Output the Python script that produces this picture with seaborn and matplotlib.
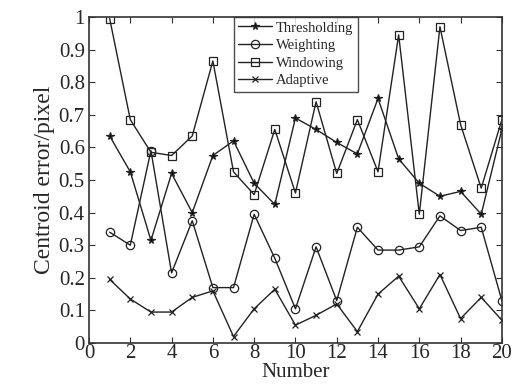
import numpy as np
import pandas as pd
import matplotlib
matplotlib.use("Agg")
import matplotlib.pyplot as plt
import seaborn as sns

# values
number = list(range(1, 21))
thresholding = [0.635, 0.525, 0.315, 0.52, 0.40, 0.575, 0.62, 0.49, 0.425, 0.69,
                0.655, 0.615, 0.58, 0.75, 0.565, 0.49, 0.45, 0.465, 0.395, 0.655]
weighting = [0.34, 0.30, 0.59, 0.215, 0.375, 0.17, 0.17, 0.395, 0.26, 0.105,
             0.295, 0.13, 0.355, 0.285, 0.285, 0.295, 0.39, 0.345, 0.355, 0.13]
windowing = [0.995, 0.685, 0.585, 0.575, 0.635, 0.865, 0.525, 0.455, 0.655, 0.46,
             0.74, 0.52, 0.685, 0.525, 0.945, 0.395, 0.97, 0.67, 0.475, 0.685]
adaptive = [0.195, 0.135, 0.095, 0.095, 0.14, 0.16, 0.02, 0.105, 0.165, 0.055,
            0.085, 0.12, 0.035, 0.15, 0.205, 0.105, 0.21, 0.075, 0.14, 0.07]

series = [("Thresholding", thresholding, "*", "k", 5.5),
          ("Weighting", weighting, "o", "none", 6),
          ("Windowing", windowing, "s", "none", 6),
          ("Adaptive", adaptive, "x", "k", 4)]

sns.set_style("ticks")
plt.rcParams['font.family'] = ['Liberation Serif', 'DejaVu Serif']

fig = plt.figure(figsize=(5.19, 3.85), dpi=100)
ax = fig.add_axes([0.1715, 0.109, 0.7955, 0.847])

for name, vals, mk, fc, ms in series:
    sns.lineplot(x=number, y=vals, ax=ax, color="#222222", linewidth=1.0,
                 marker=mk, markersize=ms, markerfacecolor=fc,
                 markeredgecolor="#222222", markeredgewidth=0.9, label=name)

ax.set_xlim(0, 20)
ax.set_ylim(0, 1)
ax.set_xticks(np.arange(0, 21, 2))
ax.set_yticks(np.arange(0, 1.01, 0.1))
ax.set_yticklabels(["0", "0.1", "0.2", "0.3", "0.4", "0.5", "0.6", "0.7", "0.8", "0.9", "1"])
ax.tick_params(direction="in", top=True, right=True, labelsize=15, length=4,
               color="#333333")
ax.tick_params(axis="x", pad=1)
ax.tick_params(axis="y", pad=3)
for sp in ax.spines.values():
    sp.set_linewidth(1.2)
    sp.set_color("#333333")

ax.set_xlabel("Number", fontsize=15, labelpad=0)
ax.set_ylabel("Centroid error/pixel", fontsize=17, labelpad=3)

leg = ax.legend(loc="upper left", bbox_to_anchor=(0.351, 1.0), fontsize=10.5,
                frameon=True, fancybox=False, edgecolor="#222222",
                handlelength=2.3, borderpad=0.3, labelspacing=0.3,
                handletextpad=0.3, borderaxespad=0)
leg.get_frame().set_linewidth(1.0)

fig.savefig("out.png", dpi=100)
